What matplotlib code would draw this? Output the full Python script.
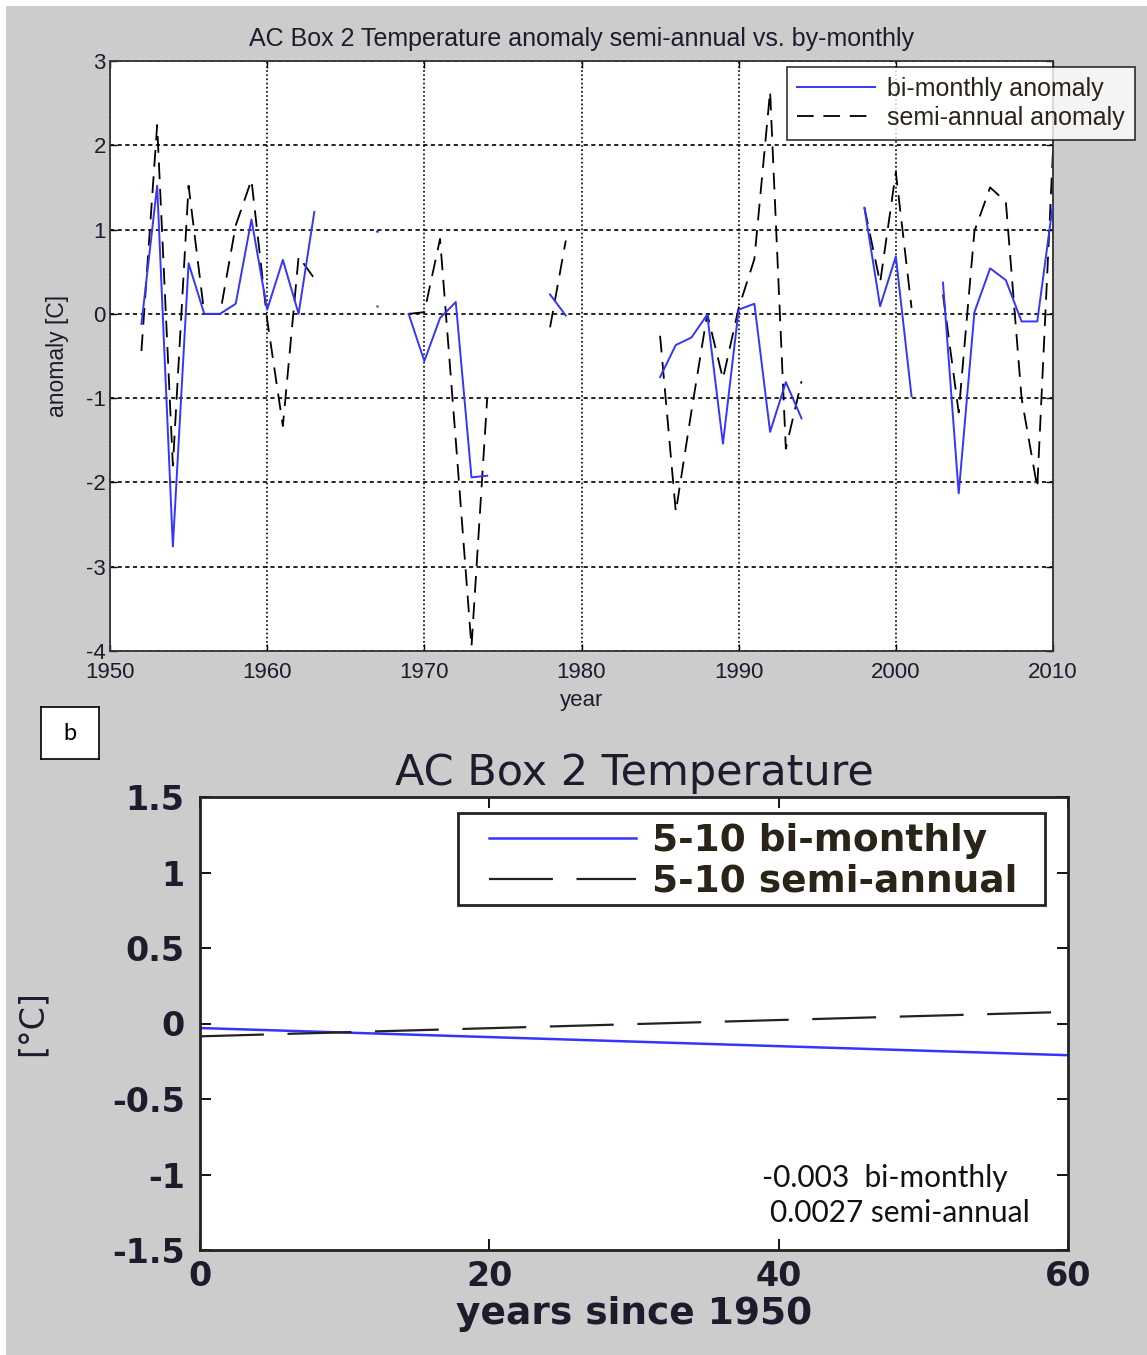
import numpy as np
import matplotlib
matplotlib.use("Agg")
import matplotlib.pyplot as plt
from matplotlib.patches import Rectangle

# annual anomaly values, nan where there is no data
years = np.arange(1950, 2011)
bimonthly = [
    None, None, -0.12, 1.52, -2.76, 0.60, 0.00, 0.00, 0.12, 1.12,   # 1950-59
    0.05, 0.64, 0.00, 1.21, None, None, None, 0.98, None, 0.00,     # 1960-69
    -0.56, -0.05, 0.14, -1.94, -1.92, None, None, None, 0.23, -0.02,  # 1970-79
    None, None, None, None, None, -0.75, -0.37, -0.28, -0.01, -1.54,  # 1980-89
    0.05, 0.12, -1.40, -0.81, -1.24, None, None, None, 1.26, 0.09,  # 1990-99
    0.68, -0.98, None, 0.37, -2.13, 0.02, 0.54, 0.40, -0.09, -0.09,  # 2000-09
    1.31,                                                           # 2010
]
semiannual = [
    None, None, -0.44, 2.24, -1.80, 1.52, 0.00, 0.00, 1.05, 1.59,
    -0.07, -1.33, 0.68, 0.42, None, None, None, 0.09, None, 0.00,
    0.02, 0.89, -1.50, -3.95, -1.00, None, None, None, -0.16, 0.87,
    None, None, None, None, None, -0.26, -2.35, -1.15, 0.00, -0.77,
    0.07, 0.65, 2.64, -1.60, -0.80, None, None, None, 1.26, 0.37,
    1.68, 0.07, None, 0.23, -1.17, 0.98, 1.50, 1.33, -1.00, -2.06,
    1.94,
]
year_ticks = [1950, 1960, 1970, 1980, 1990, 2000, 2010]
anom_ticks = [-4, -3, -2, -1, 0, 1, 2, 3]

# linear trends, years since 1950
trend_x = [0, 60]
bimonthly_slope = -0.003
bimonthly_icpt = -0.03
semiannual_slope = 0.0027
semiannual_icpt = -0.085
since_ticks = [0, 20, 40, 60]
temp_ticks = [-1.5, -1, -0.5, 0, 0.5, 1, 1.5]
temp_labels = ["-1.5", "-1", "-0.5", "0", "0.5", "1", "1.5"]

BLUE = "#3535ff"
INK = "#1c1c2c"
W, H = 1147, 1355

plt.rcParams["lines.scale_dashes"] = False


def to_arr(vals):
    return np.array([np.nan if v is None else v for v in vals], dtype=float)


def lonely(y):
    # points with no neighbour on either side never show up in a line plot
    ok = ~np.isnan(y)
    prev = np.r_[False, ok[:-1]]
    nxt = np.r_[ok[1:], False]
    return ok & ~prev & ~nxt


def fbox(l, t, r, b):
    return [l / W, 1 - b / H, (r - l) / W, (b - t) / H]


fig = plt.figure(figsize=(W / 100, H / 100), dpi=100)
fig.patch.set_facecolor("white")
fig.add_artist(Rectangle((6 / W, 0), 1, 1 - 6 / H, transform=fig.transFigure,
                         facecolor="#cccccc", edgecolor="none", zorder=-10))

# ---- top panel: anomaly time series ----
sans = ["Liberation Sans", "DejaVu Sans"]
ax = fig.add_axes(fbox(110, 61, 1053, 651))
bm = to_arr(bimonthly)
sa = to_arr(semiannual)
ax.plot(years, bm, color=BLUE, lw=1.4, label="bi-monthly anomaly", zorder=3)
ax.plot(years, sa, color="black", lw=1.3, dashes=(12, 7),
        label="semi-annual anomaly", zorder=2)
ax.plot(years[lonely(bm)], bm[lonely(bm)], ".", color=BLUE, ms=2)
ax.plot(years[lonely(sa)], sa[lonely(sa)], ".", color="#777777", ms=2)

ax.set_xlim(1950, 2010)
ax.set_ylim(-4, 3)
ax.set_xticks(year_ticks)
ax.set_yticks(anom_ticks)
ax.set_xticklabels([str(t) for t in year_ticks], family=sans, fontsize=16, color=INK)
ax.set_yticklabels([str(t) for t in anom_ticks], family=sans, fontsize=16, color=INK)
ax.tick_params(direction="in", length=5, width=1, top=True, right=True, pad=3)
ax.tick_params(axis="x", pad=8)
ax.xaxis.grid(True, color="black", lw=1.2, ls=(0, (1.2, 1.8)))
ax.yaxis.grid(True, color="black", lw=1.2, ls=(0, (3, 2.5)))
for s in ax.spines.values():
    s.set_color("#333333")
    s.set_linewidth(1.3)
ax.set_title("AC Box 2 Temperature anomaly semi-annual vs. by-monthly",
             family=sans, fontsize=18, color=INK, pad=11)
ax.set_xlabel("year", family=sans, fontsize=16, color=INK, labelpad=5)
ax.set_ylabel("anomaly [C]", family=sans, fontsize=16.5, color=INK, labelpad=12)
leg = ax.legend(loc="upper left", bbox_to_anchor=(787 / W, 1 - 67 / H),
                bbox_transform=fig.transFigure, prop={"family": sans, "size": 18},
                frameon=True, fancybox=False, handlelength=3.1,
                handletextpad=0.5, borderpad=0.4, labelspacing=0.2,
                borderaxespad=0)
leg.get_frame().set_edgecolor("black")
leg.get_frame().set_linewidth(1.2)
for t in leg.get_texts():
    t.set_color("#2a2418")

# ---- panel label ----
bx = fig.add_axes(fbox(41, 707, 99, 759))
bx.set_xticks([])
bx.set_yticks([])
for s in bx.spines.values():
    s.set_linewidth(1.2)
bx.text(0.5, 0.5, "b", ha="center", va="center", family="Lato", fontsize=17,
        transform=bx.transAxes)

# ---- bottom panel: trends ----
wide = ["DejaVu Sans"]
ax2 = fig.add_axes(fbox(200, 797, 1068, 1250))
tx = np.array(trend_x, dtype=float)
ax2.plot(tx, bimonthly_icpt + bimonthly_slope * tx, color=BLUE, lw=1.8,
         label="5-10 bi-monthly")
ax2.plot(tx, semiannual_icpt + semiannual_slope * tx, color="#222222", lw=1.6,
         dashes=(46, 17), label="5-10 semi-annual")
ax2.set_xlim(0, 60)
ax2.set_ylim(-1.5, 1.5)
ax2.set_xticks(since_ticks)
ax2.set_yticks(temp_ticks)
ax2.set_xticklabels([str(t) for t in since_ticks], family=wide, fontsize=24,
                    weight="bold", color=INK)
ax2.set_yticklabels(temp_labels, family=wide, fontsize=24, weight="bold", color=INK)
ax2.tick_params(axis="x", direction="in", length=8, width=1.3, top=True, pad=7)
ax2.tick_params(axis="y", direction="in", length=8, width=1.3, right=True, pad=11)
for s in ax2.spines.values():
    s.set_color("#222222")
    s.set_linewidth(2)
ax2.set_title("AC Box 2 Temperature", family=wide, fontsize=31, color=INK, pad=9)
ax2.set_xlabel("years since 1950", family=wide, fontsize=27, weight="bold",
               color=INK, labelpad=2)
ax2.set_ylabel("[\u00b0C]", family=wide, fontsize=24, color=INK)
ax2.yaxis.set_label_coords(-0.175, 0.5)

# legend frame drawn separately so the entries can sit inset from it
ax2.add_patch(Rectangle((458 / W, 1 - 905 / H), (1045 - 458) / W, 92 / H,
                        transform=fig.transFigure, facecolor="white",
                        edgecolor="#222222", lw=2, zorder=4, clip_on=False))
leg2 = ax2.legend(loc="upper left", bbox_to_anchor=(478 / W, 1 - 812 / H),
                  bbox_transform=fig.transFigure,
                  prop={"family": wide, "size": 27, "weight": "bold"},
                  frameon=False, handlelength=3.9,
                  handletextpad=0.45, borderpad=0.3, labelspacing=0.12,
                  borderaxespad=0)
leg2.set_zorder(6)
for t in leg2.get_texts():
    t.set_color("#2a2418")

ax2.text(0.647, 0.159, "-0.003  bi-monthly", transform=ax2.transAxes,
         family="Lato", fontsize=21.5, va="center", color="#111111")
ax2.text(0.657, 0.082, "0.0027 semi-annual", transform=ax2.transAxes,
         family="Lato", fontsize=21.5, va="center", color="#111111")

fig.savefig("out.png", dpi=100, facecolor=fig.get_facecolor())
